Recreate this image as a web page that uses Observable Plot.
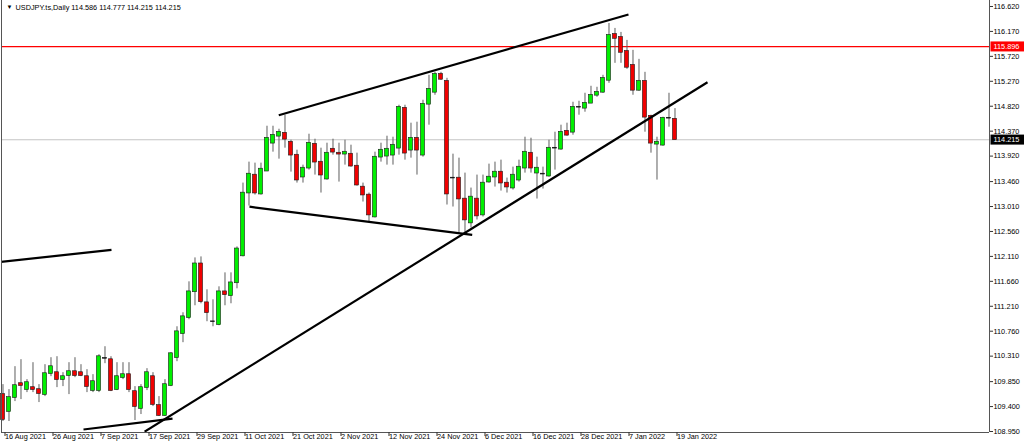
<!DOCTYPE html>
<html>
<head>
<meta charset="utf-8">
<script src="https://cdn.jsdelivr.net/npm/d3@7"></script>
<script src="https://cdn.jsdelivr.net/npm/@observablehq/plot@0.6"></script>
<style>
  html, body { margin: 0; padding: 0; background: #fff; }
  #chart svg { display: block; }
</style>
</head>
<body>
<div id="chart"></div>
<script>
// ---- data (bar index 0 = 16 Aug 2021, one bar per weekday) ----
const symbolTitle = "USDJPY.ts,Daily 114.586 114.777 114.215 114.215";
const xTickIndex = [0, 8, 16, 24, 32, 40, 48, 56, 64, 72, 80, 88, 96, 104, 112];
const xTickLabels = ["16 Aug 2021","26 Aug 2021","7 Sep 2021","17 Sep 2021","29 Sep 2021","11 Oct 2021","21 Oct 2021","2 Nov 2021","12 Nov 2021","24 Nov 2021","6 Dec 2021","16 Dec 2021","28 Dec 2021","7 Jan 2022","19 Jan 2022"];
const yTicks = [116.620,116.170,115.720,115.270,114.820,114.370,113.920,113.460,113.010,112.560,112.110,111.660,111.210,110.760,110.310,109.850,109.400,108.950];

const opens = [109.616,109.310,109.562,109.814,109.706,109.742,109.706,109.616,109.994,110.012,
109.886,109.958,110.030,110.012,109.940,109.688,109.688,110.270,110.246,109.706,
109.922,109.976,109.670,109.364,109.742,109.940,109.418,109.238,109.778,110.282,
110.715,111.003,111.471,111.975,111.273,110.930,110.877,111.471,111.399,111.633,
112.119,113.253,113.577,113.235,113.649,114.153,114.279,114.333,114.171,113.937,
113.541,113.703,114.135,113.811,113.505,114.045,113.973,113.955,113.955,113.739,
113.361,113.217,112.821,113.901,113.919,113.937,114.063,114.784,114.027,114.243,
113.937,114.856,115.072,115.396,115.270,113.523,113.523,113.145,112.713,113.145,
112.857,113.451,113.541,113.631,113.433,113.343,113.487,113.703,113.973,113.613,
113.595,113.559,114.063,114.045,114.369,114.351,114.802,114.784,114.874,115.018,
115.072,115.288,116.116,116.062,115.810,115.558,115.108,115.270,114.640,114.135,
114.117,114.604,114.586];
const highs = [109.796,109.706,110.120,110.246,109.886,110.192,109.796,110.156,110.282,110.300,
110.012,110.192,110.282,110.156,110.066,109.976,110.336,110.480,110.300,110.192,
110.192,110.192,109.760,109.796,110.084,110.012,109.580,109.886,110.372,110.840,
111.093,111.651,112.083,112.101,111.507,111.327,111.561,111.813,111.813,112.281,
113.433,113.811,113.793,113.793,114.459,114.459,114.405,114.658,114.207,114.027,
113.757,114.315,114.225,114.063,114.153,114.225,114.153,114.207,114.117,113.973,
113.433,113.253,113.991,114.153,114.279,114.261,114.838,114.838,114.514,114.532,
114.928,115.378,115.432,115.432,115.324,113.955,113.883,113.613,113.343,113.577,
113.577,113.775,113.811,113.847,113.523,113.721,113.847,114.261,114.243,113.901,
113.721,114.207,114.351,114.478,114.514,114.892,114.910,115.054,115.180,115.162,
115.378,116.314,116.224,116.152,116.008,115.828,115.666,115.432,114.658,114.261,
114.622,115.054,114.777];
const lows = [109.130,109.130,109.490,109.526,109.652,109.652,109.472,109.580,109.940,109.742,
109.760,109.616,109.922,109.940,109.652,109.652,109.652,110.174,109.670,109.688,
109.886,109.652,109.148,109.256,109.688,109.400,109.220,109.220,109.760,110.210,
110.553,110.967,111.219,111.255,110.931,110.840,110.859,111.219,111.255,111.525,
112.101,113.019,113.217,113.217,113.649,113.991,113.865,114.063,113.631,113.433,
113.433,113.667,113.577,113.253,113.487,113.937,113.451,113.757,113.721,113.379,
113.091,112.731,112.803,113.811,113.757,113.757,113.937,113.847,113.883,113.577,
113.901,114.478,115.018,115.288,113.037,113.001,112.533,112.533,112.623,112.767,
112.821,113.433,113.361,113.289,113.253,113.307,113.451,113.613,113.613,113.145,
113.325,113.541,113.667,114.027,114.279,114.297,114.658,114.712,114.874,114.982,
115.054,115.234,115.594,115.594,115.486,115.018,115.090,114.351,113.973,113.487,
114.099,114.441,114.215];
const closes = [109.166,109.562,109.778,109.778,109.832,109.706,109.634,109.994,110.120,109.886,
109.940,110.030,109.958,109.958,109.760,109.850,110.300,110.270,109.688,109.940,
109.976,109.706,109.400,109.742,110.012,109.436,109.238,109.796,110.354,110.750,
111.021,111.471,111.975,111.291,111.093,110.930,111.471,111.417,111.633,112.245,
113.253,113.595,113.253,113.685,114.243,114.297,114.351,114.225,113.937,113.487,
113.703,114.153,113.811,113.577,113.973,113.991,113.955,113.991,113.739,113.397,
113.217,112.857,113.901,114.027,114.045,114.117,114.802,113.973,114.243,114.027,
114.856,115.126,115.396,115.306,113.235,113.523,113.145,112.767,113.181,112.839,
113.433,113.541,113.631,113.433,113.361,113.577,113.721,113.991,113.703,113.703,
113.595,114.063,114.063,114.351,114.297,114.802,114.802,114.874,115.018,115.072,
115.324,116.098,116.044,115.792,115.522,115.108,115.270,114.622,114.153,114.171,
114.604,114.604,114.215];

// hand-drawn trend lines: [bar index, price] end points
const lineStartIndex = [45.96, 41.08, 23.60, 13.42, -1.00];
const lineStartPrice = [114.658, 113.007, 108.947, 108.986, 112.004];
const lineEndIndex   = [104.25, 78.20, 117.42, 28.25, 18.08];
const lineEndPrice   = [116.476, 112.497, 115.252, 109.184, 112.227];

const redLevel = 115.896;
const lastClose = 114.215;

// ---- build tables ----
const bars = opens.map((o, i) => ({i, o, h: highs[i], l: lows[i], c: closes[i]}));
const trends = lineStartIndex.map((x1, k) => ({x1, y1: lineStartPrice[k], x2: lineEndIndex[k], y2: lineEndPrice[k]}));
const xLabelOf = new Map(xTickIndex.map((t, k) => [t, xTickLabels[k]]));
const priceTags = [
  {value: redLevel, bg: "#ff0000"},
  {value: lastClose, bg: "#000000"}
];

const xDomain = [-0.25, 164.42];
const yDomain = [108.932, 116.728];

const chart = Plot.plot({
  width: 1024,
  height: 447,
  marginLeft: 1,
  marginRight: 35,
  marginTop: 0,
  marginBottom: 15,
  style: {fontFamily: "Liberation Sans, Arial, sans-serif", fontSize: "7.3px", background: "#fff", color: "#000"},
  x: {domain: xDomain, axis: null},
  y: {domain: yDomain, axis: null},
  marks: [
    Plot.ruleY([lastClose], {stroke: "#c4c4c4", strokeWidth: 1}),
    Plot.ruleY([redLevel], {stroke: "#ff0000", strokeWidth: 1.3}),
    Plot.ruleX(bars, {x: "i", y1: "l", y2: "h", stroke: "#5e5e5e", strokeWidth: 1}),
    Plot.rect(bars, {
      x1: d => d.i - 0.34, x2: d => d.i + 0.34,
      y1: d => Math.min(d.o, d.c), y2: d => Math.max(d.o, d.c),
      fill: d => d.c > d.o ? "#00f000" : d.c < d.o ? "#f00000" : "#000",
      stroke: "#1a1a1a", strokeWidth: 0.6,
      insetTop: -0.4, insetBottom: -0.4
    }),
    Plot.link(trends, {x1: "x1", y1: "y1", x2: "x2", y2: "y2", stroke: "#000", strokeWidth: 2.2, clip: true}),
    // chart borders (left, right, bottom)
    Plot.ruleX([xDomain[0]], {stroke: "#555", strokeWidth: 1}),
    Plot.ruleX([xDomain[1]], {stroke: "#555", strokeWidth: 1}),
    Plot.ruleY([yDomain[0]], {stroke: "#555", strokeWidth: 1}),
    Plot.axisY(yTicks, {anchor: "right", tickSize: 3, tickPadding: 1, tickFormat: d => d.toFixed(3), stroke: "#333", fill: "#000"}),
    Plot.axisX(xTickIndex, {anchor: "bottom", tickSize: 4, tickPadding: -3, textAnchor: "start", dx: 2, tickFormat: d => xLabelOf.get(d), stroke: "#333", fill: "#000"}),
    Plot.text(priceTags, {y: "value", text: d => d.value.toFixed(3), frameAnchor: "right", dx: 4, textAnchor: "start", fill: "#ffffff"}),
    Plot.text(["▼"], {frameAnchor: "top-left", dx: 5, dy: 7, fontSize: 6, fill: "#000", lineAnchor: "middle"}),
    Plot.text([symbolTitle], {frameAnchor: "top-left", dx: 14, dy: 7.5, textAnchor: "start", lineAnchor: "middle", fill: "#000"})
  ]
});

document.getElementById("chart").appendChild(chart);

// price-tag backgrounds behind the two highlighted labels
const svg = d3.select(chart);
priceTags.forEach(tag => {
  const label = tag.value.toFixed(3);
  svg.selectAll("text").filter(function () {
    const g = this.closest("g");
    return this.textContent === label && g && g.getAttribute("fill") === "#ffffff";
  }).each(function () {
    const b = this.getBBox();
    const tr = this.getAttribute("transform") || "";
    d3.select(this.parentNode).insert("rect", () => this)
      .attr("transform", tr)
      .attr("x", b.x - 3).attr("y", b.y - 0.5)
      .attr("width", 40).attr("height", b.height + 1)
      .attr("fill", tag.bg);
  });
});
</script>
</body>
</html>
